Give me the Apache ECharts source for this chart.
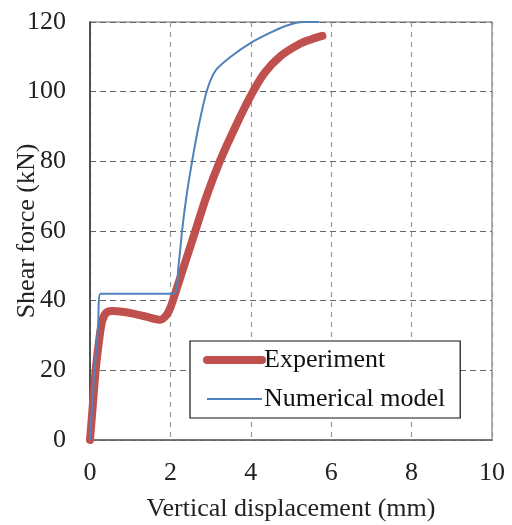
<!DOCTYPE html>
<html><head><meta charset="utf-8">
<script src="https://cdn.jsdelivr.net/npm/echarts@6/dist/echarts.min.js"></script>
<style>html,body{margin:0;padding:0;background:#fff}#c{width:512px;height:525px}</style>
</head><body><div id="c"></div>
<script>
const xTicks = [0, 2, 4, 6, 8, 10];
const yTicks = [0, 20, 40, 60, 80, 100, 120];
const experiment = [[0,0],[0.07,10],[0.14,20],[0.22,28],[0.3,34],[0.4,36.5],[0.55,37],[0.8,36.8],[1.1,36.2],[1.4,35.4],[1.75,34.5],[1.9,35.8],[2.0,38],[2.06,40],[2.34,50],[2.62,60],[2.9,70],[3.23,80],[3.62,90],[4.03,99.5],[4.35,105.5],[4.74,110.2],[5.2,113.6],[5.5,115],[5.78,116]];
const numerical = [[0,0],[0.1,18],[0.2,32],[0.26,42],[2.07,42],[2.2,50],[2.29,60],[2.4,70],[2.54,80],[2.7,90],[2.9,100],[3.12,106],[3.5,110],[4.0,114],[4.5,117],[4.9,119],[5.3,120],[5.7,120]];
const font = 'Liberation Serif';
const chart = echarts.init(document.getElementById('c'));
chart.setOption({
  animation: false,
  grid: {left: 90, right: 20, top: 22, bottom: 85, show: true, borderColor: '#999', borderWidth: 1.5,
         containLabel: false, outerBoundsMode: 'none'},
  xAxis: {
    type: 'value', min: 0, max: 10, interval: 2,
    name: 'Vertical displacement (mm)', nameLocation: 'middle', nameGap: 56, nameMoveOverlap: false,
    nameTextStyle: {fontFamily: font, fontSize: 26, color: '#222'},
    axisLine: {show: true, lineStyle: {color: '#666', width: 1.5}},
    axisTick: {show: false},
    axisLabel: {fontFamily: font, fontSize: 26, color: '#222', margin: 20},
    splitLine: {show: true, lineStyle: {color: '#999', type: [5, 5], width: 1.2}}
  },
  yAxis: {
    type: 'value', min: 0, max: 120, interval: 20,
    name: 'Shear force (kN)', nameLocation: 'middle', nameGap: 50, nameMoveOverlap: false,
    nameTextStyle: {fontFamily: font, fontSize: 26, color: '#222'},
    axisLine: {show: true, lineStyle: {color: '#333', width: 1.5}},
    axisTick: {show: false},
    axisLabel: {fontFamily: font, fontSize: 26, color: '#222', margin: 24},
    splitLine: {show: true, lineStyle: {color: '#666', type: [6, 4], width: 1.2}}
  },
  legend: {
    left: 190, top: 341, orient: 'vertical',
    backgroundColor: '#fff', borderColor: '#111', borderWidth: 1.2,
    padding: [6, 15, 6, 13], itemWidth: 55, itemHeight: 26, itemGap: 13,
    itemStyle: {opacity: 0},
    textStyle: {fontFamily: font, fontSize: 26, color: '#111', padding: [0, 0, 0, -3]},
    data: [
      {name: 'Experiment', lineStyle: {width: 8, color: '#c0504d'}},
      {name: 'Numerical model', lineStyle: {width: 2, color: '#4f81bd'}}
    ]
  },
  series: [
    {name: 'Numerical model', type: 'line', data: numerical, symbol: 'none', smooth: 0.25, z: 3,
     lineStyle: {color: '#4f81bd', width: 2}, itemStyle: {color: '#4f81bd'}},
    {name: 'Experiment', type: 'line', data: experiment, symbol: 'none', smooth: 0.3, z: 2,
     lineStyle: {color: '#c0504d', width: 8, cap: 'round'}, itemStyle: {color: '#c0504d'}}
  ]
});
</script></body></html>
